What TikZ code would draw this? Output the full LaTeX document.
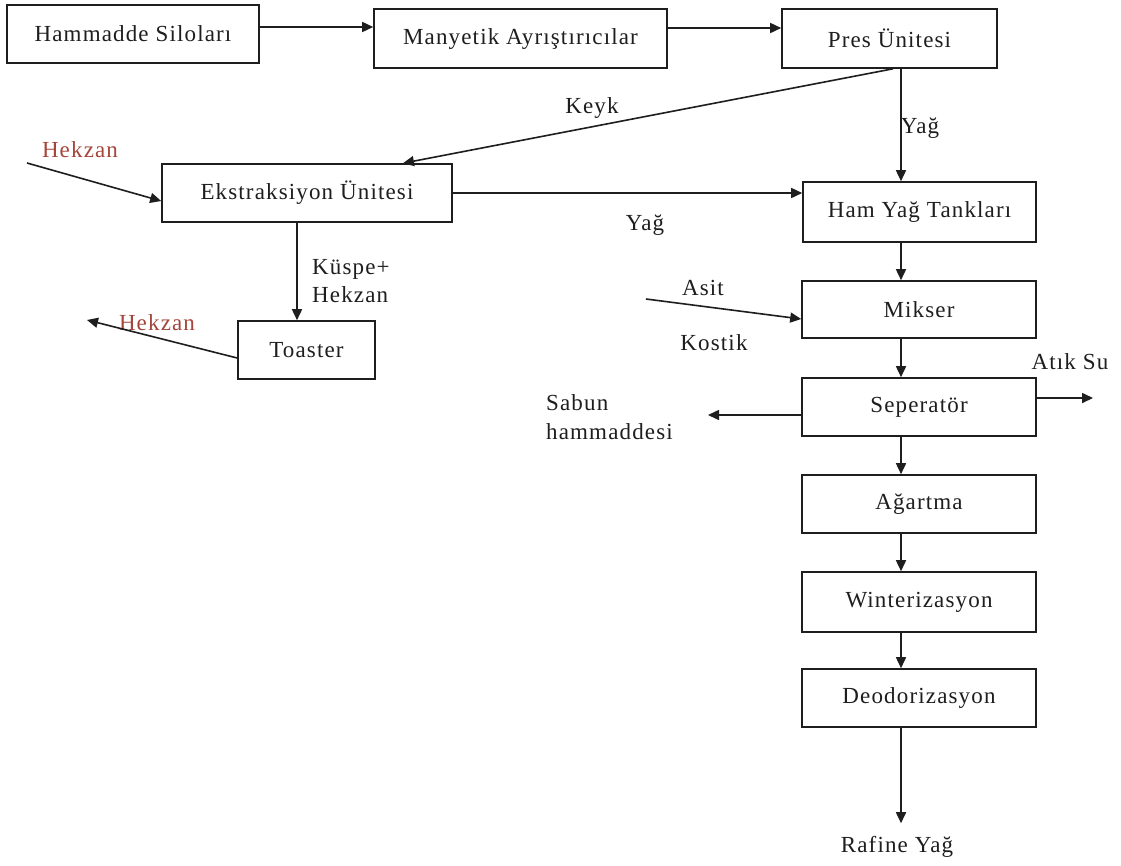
\documentclass[tikz,border=0pt]{standalone}
\usepackage{fontspec}
\setmainfont[LetterSpace=5]{Liberation Serif}
\usetikzlibrary{arrows.meta}
\definecolor{hek}{RGB}{165,70,60}
\definecolor{ink}{RGB}{30,30,30}
\begin{document}
\begin{tikzpicture}[x=1pt,y=-1pt,
  box/.style={draw=ink,line width=1.6pt,fill=white,inner sep=0pt,font=\fontsize{23}{26}\selectfont,text=ink},
  lbl/.style={inner sep=0pt,font=\fontsize{23}{28}\selectfont,text=ink},
  redlbl/.style={lbl,text=hek},
  flow/.style={draw=ink,line width=1.6pt,-{Triangle[length=11pt,width=10pt]}}
]
\useasboundingbox[fill=white] (0,0) rectangle (1121,865);
\coordinate (colx) at (901,0);
% boxes
\node[box,minimum width=252pt,minimum height=58pt] (hs) at (133,34) {Hammadde Siloları};
\node[box,minimum width=293pt,minimum height=59pt] (ma) at (520.5,38.5) {Manyetik Ayrıştırıcılar};
\node[box,minimum width=215pt,minimum height=59pt] (pu) at (889.5,38.5) {Pres Ünitesi};
\node[box,minimum width=290pt,minimum height=58pt] (eu) at (307,193) {Ekstraksiyon Ünitesi};
\node[box,minimum width=233pt,minimum height=60pt] (ht) at (919.5,212) {Ham Yağ Tankları};
\node[box,minimum width=234pt,minimum height=57pt] (mk) at (919,309.5) {Mikser};
\node[box,minimum width=234pt,minimum height=58pt] (sp) at (919,407) {Seperatör};
\node[box,minimum width=234pt,minimum height=58pt] (ag) at (919,504) {Ağartma};
\node[box,minimum width=234pt,minimum height=60pt] (wi) at (919,602) {Winterizasyon};
\node[box,minimum width=234pt,minimum height=58pt] (de) at (919,698) {Deodorizasyon};
\node[box,minimum width=137pt,minimum height=58pt] (to) at (306.5,350) {Toaster};
% labels
\node[lbl] (keyk) at (592,108) {Keyk};
\node[lbl] (yag1) at (920,128) {Yağ};
\node[lbl] (yag2) at (645,225) {Yağ};
\node[redlbl] (hek1) at (80,150) {Hekzan};
\node[redlbl] (hek2) at (157,323) {Hekzan};
\node[lbl,anchor=west,align=left] (kus) at (312,281) {Küspe+\\Hekzan};
\node[lbl] (asit) at (703,288) {Asit};
\node[lbl] (kost) at (714,343) {Kostik};
\node[lbl,anchor=west,align=left,font=\fontsize{23}{29}\selectfont] (sab) at (546,417.5) {Sabun\\hammaddesi};
\node[lbl] (atik) at (1070,362) {Atık Su};
\node[lbl] (raf) at (897,847) {Rafine Yağ};
% free ends
\coordinate (hekS) at (27,163);
\coordinate (hekE) at (87,320);
\coordinate (asitS) at (646,299);
\coordinate (sabE) at (708,415);
\coordinate (atE) at (1093,398);
% connectors
\draw[flow] ([yshift=7pt]hs.east) -- ([yshift=11.5pt]ma.west);
\draw[flow] ([yshift=10.5pt]ma.east) -- ([yshift=10.5pt]pu.west);
\draw[flow] (pu.south -| colx) -- (ht.north -| colx);
\draw[flow] ([xshift=3.5pt]pu.south) -- ([xshift=96pt]eu.north);
\draw[flow] (eu.east) -- (eu.east -| ht.west);
\draw[flow] (hekS) -- ([yshift=-8pt]eu.west);
\draw[flow] ([xshift=-10pt]eu.south) -- ([xshift=-10pt]eu.south |- to.north);
\draw[flow] ([yshift=-8pt]to.west) -- (hekE);
\draw[flow] (ht.south -| colx) -- (mk.north -| colx);
\draw[flow] (asitS) -- ([yshift=-9.5pt]mk.west);
\draw[flow] (mk.south -| colx) -- (sp.north -| colx);
\draw[flow] ([yshift=-8pt]sp.west) -- (sabE);
\draw[flow] ([yshift=9pt]sp.east) -- (atE);
\draw[flow] (sp.south -| colx) -- (ag.north -| colx);
\draw[flow] (ag.south -| colx) -- (wi.north -| colx);
\draw[flow] (wi.south -| colx) -- (de.north -| colx);
\draw[flow,shorten >=13pt] (de.south -| colx) -- (raf.north -| colx);
\end{tikzpicture}
\end{document}
